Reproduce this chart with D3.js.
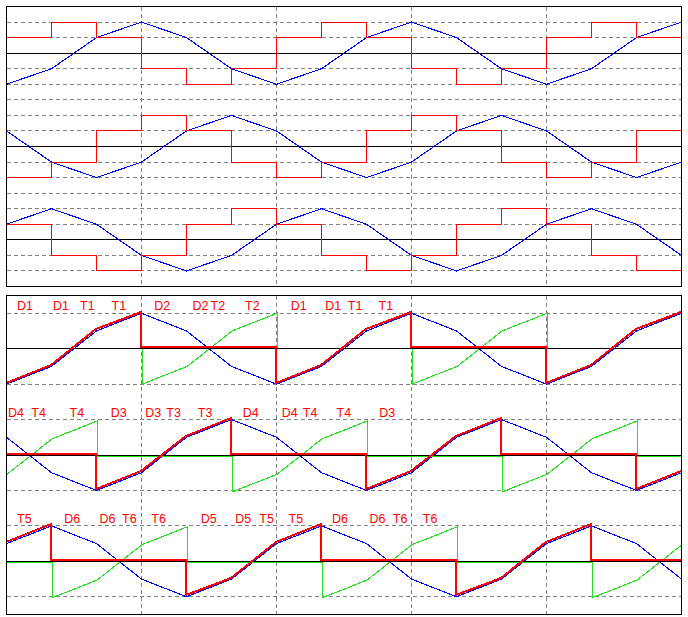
<!DOCTYPE html>
<html><head><meta charset="utf-8">
<script src="https://cdn.jsdelivr.net/npm/d3@7"></script>
<style>html,body{margin:0;padding:0;background:#fff;}svg{display:block;}</style>
</head><body>
<script>
// ---- data (angles in electrical degrees) ----
const angles = [0,60,120,180,240,300,360,420,480,540,600,660,720,780,840,900];
// six-step phase voltages (level per 60° segment)
const stepA = [1,2,1,-1,-2,-1,1,2,1,-1,-2,-1,1,2,1];
const stepB = [-2,-1,1,2,1,-1,-2,-1,1,2,1,-1,-2,-1,1];
const stepC = [1,-1,-2,-1,1,2,1,-1,-2,-1,1,2,1,-1,-2];
// integrated waveforms (value at each angle)
const fluxA = [-2,-1,1,2,1,-1,-2,-1,1,2,1,-1,-2,-1,1,2];
const fluxB = [1,-1,-2,-1,1,2,1,-1,-2,-1,1,2,1,-1,-2,-1];
const fluxC = [1,2,1,-1,-2,-1,1,2,1,-1,-2,-1,1,2,1,-1];
// phase currents (bottom panel, blue)
const currA = [-1,-0.5,0.5,1,0.5,-0.5,-1,-0.5,0.5,1,0.5,-0.5,-1,-0.5,0.5,1];
const currB = [0.5,-0.5,-1,-0.5,0.5,1,0.5,-0.5,-1,-0.5,0.5,1,0.5,-0.5,-1,-0.5];
const currC = [0.5,1,0.5,-0.5,-1,-0.5,0.5,1,0.5,-0.5,-1,-0.5,0.5,1,0.5,-0.5];
// device currents [angle, value] (red / green)
const redA = [[0,-1],[60,-0.5],[120,0.5],[180,1],[180,0],[360,0],[360,-1],[420,-0.5],[480,0.5],[540,1],[540,0],[720,0],[720,-1],[780,-0.5],[840,0.5],[900,1]];
const greenA = [[0,0],[180,0],[180,-1],[240,-0.5],[300,0.5],[360,1],[360,0],[540,0],[540,-1],[600,-0.5],[660,0.5],[720,1],[720,0],[900,0]];
const redB = [[0,0],[120,0],[120,-1],[180,-0.5],[240,0.5],[300,1],[300,0],[480,0],[480,-1],[540,-0.5],[600,0.5],[660,1],[660,0],[840,0],[840,-1],[900,-0.5]];
const greenB = [[0,-0.5],[60,0.5],[120,1],[120,0],[300,0],[300,-1],[360,-0.5],[420,0.5],[480,1],[480,0],[660,0],[660,-1],[720,-0.5],[780,0.5],[840,1],[840,0],[900,0]];
const redC = [[0,0.5],[60,1],[60,0],[240,0],[240,-1],[300,-0.5],[360,0.5],[420,1],[420,0],[600,0],[600,-1],[660,-0.5],[720,0.5],[780,1],[780,0],[900,0]];
const greenC = [[0,0],[60,0],[60,-1],[120,-0.5],[180,0.5],[240,1],[240,0],[420,0],[420,-1],[480,-0.5],[540,0.5],[600,1],[600,0],[780,0],[780,-1],[840,-0.5],[900,0.5]];
// labels
const labels1 = ["D1","D1","T1","T1","D2","D2","T2","T2","D1","D1","T1","T1"];
const labels1Deg = [14,62,98,140,197,248,272,318,379,425,455,496];
const labels2 = ["D4","T4","T4","D3","D3","T3","T3","D4","D4","T4","T4","D3"];
const labels2Deg = [2,33,84,139,185,213,255,315,367,395,440,497];
const labels3 = ["T5","D6","D6","T6","T6","D5","D5","T5","T5","D6","D6","T6","T6"];
const labels3Deg = [14,77,124,154,193,259,305,337,376,434,484,515,555];
const gridDeg = [180,360,540,720];

// ---- drawing ----
const W = 688, H = 617;
const RED = "#ff0000", BLUE = "#0000ff", GREEN = "#20e020", GRID = "#808080";
const svg = d3.select("body").append("svg").attr("width", W).attr("height", H);
svg.append("rect").attr("width", W).attr("height", H).attr("fill", "#fff");

const x = d3.scaleLinear().domain([0, 900]).range([6.5, 681.5]);

// top panel: three stacked sub-plots, each domain [-3,3]
const topY0 = 6.5, topY1 = 286.5, topH = (topY1 - topY0) / 3;
const topScales = [0,1,2].map(i => d3.scaleLinear().domain([3,-3]).range([topY0 + i*topH, topY0 + (i+1)*topH]));
// bottom panel: each domain [-1.5,1.5]
const botY0 = 295.5, botY1 = 614.5, botH = (botY1 - botY0) / 3;
const botScales = [0,1,2].map(i => d3.scaleLinear().domain([1.5,-1.5]).range([botY0 + i*botH, botY0 + (i+1)*botH]));

const gTop = svg.append("g"), gBot = svg.append("g");

const px = v => Math.round(v - 0.5) + 0.5;

function hline(g, y, color, dashed) {
  g.append("line").attr("x1", x(0)).attr("x2", x(900)).attr("y1", px(y)).attr("y2", px(y))
    .attr("stroke", color).attr("stroke-width", 1).attr("shape-rendering", "crispEdges")
    .attr("stroke-dasharray", dashed ? "4,3" : null);
}
function vline(g, xv, y0, y1) {
  g.append("line").attr("x1", px(xv)).attr("x2", px(xv)).attr("y1", y0).attr("y2", y1)
    .attr("stroke", GRID).attr("stroke-width", 1).attr("shape-rendering", "crispEdges").attr("stroke-dasharray", "4,3");
}

// top grid
topScales.forEach(s => { [-3,-2,-1,1,2].forEach(v => hline(gTop, s(v), GRID, true)); });
gridDeg.forEach(d => vline(gTop, x(d), topY0, topY1));
topScales.forEach(s => hline(gTop, s(0), "#000", false));

// bottom grid
botScales.forEach(s => { [-1,1].forEach(v => hline(gBot, s(v), GRID, true)); });
gridDeg.forEach(d => vline(gBot, x(d), botY0, botY1));

// top panel curves
const steps = [stepA, stepB, stepC], fluxes = [fluxA, fluxB, fluxC];
topScales.forEach((s, i) => {
  const lineLin = d3.line().x(d => x(d[0])).y(d => s(d[1]));
  const lineStep = d3.line().x(d => px(x(d[0]))).y(d => px(s(d[1]))).curve(d3.curveStepAfter);
  const fd = angles.map((a, k) => [a, fluxes[i][k]]);
  const sd = angles.map((a, k) => [a, steps[i][Math.min(k, steps[i].length - 1)]]);
  gTop.append("path").attr("d", lineLin(fd)).attr("fill", "none").attr("stroke", BLUE).attr("stroke-width", 1.1)
    .attr("shape-rendering", "crispEdges");
  gTop.append("path").attr("d", lineStep(sd)).attr("fill", "none").attr("stroke", RED).attr("stroke-width", 1)
    .attr("shape-rendering", "crispEdges");
});

// bottom panel curves
const currs = [currA, currB, currC], reds = [redA, redB, redC], greens = [greenA, greenB, greenC];
const greenDy = [0, 1.5, 1];
botScales.forEach((s, i) => {
  const ln = (dx, dy) => d3.line().x(d => x(d[0]) + dx).y(d => s(d[1]) + dy);
  const cd = angles.map((a, k) => [a, currs[i][k]]);
  gBot.append("path").attr("d", ln(0, 0)(cd)).attr("fill", "none").attr("stroke", BLUE).attr("stroke-width", 1.1)
    .attr("shape-rendering", "crispEdges");
  gBot.append("path").attr("d", ln(0.6, greenDy[i])(greens[i])).attr("fill", "none").attr("stroke", GREEN).attr("stroke-width", 1.1)
    .attr("shape-rendering", "crispEdges");
  hline(gBot, s(0), "#000", false);
  const redLine = d3.line().x(d => px(x(d[0])) - 0.5).y(d => px(s(d[1])) - 1.5);
  gBot.append("path").attr("d", redLine(reds[i])).attr("fill", "none").attr("stroke", RED).attr("stroke-width", 2)
    .attr("shape-rendering", "crispEdges");
});

// labels
const labelSets = [[labels1, labels1Deg], [labels2, labels2Deg], [labels3, labels3Deg]];
labelSets.forEach(([txt, deg], i) => {
  const s = botScales[i];
  gBot.selectAll(null).data(txt).enter().append("text")
    .attr("x", (d, k) => x(deg[k]))
    .attr("y", s(1.08))
    .attr("fill", RED)
    .attr("font-family", "'Liberation Sans', Arial, sans-serif")
    .attr("font-size", 12.5)
    .text(d => d);
});

// frame borders
[[topY0, topY1], [botY0, botY1]].forEach(([a, b]) => {
  svg.append("rect").attr("x", x(0)).attr("y", a).attr("width", x(900) - x(0)).attr("height", b - a)
    .attr("fill", "none").attr("stroke", "#000").attr("stroke-width", 1).attr("shape-rendering", "crispEdges");
});
</script>
</body></html>
